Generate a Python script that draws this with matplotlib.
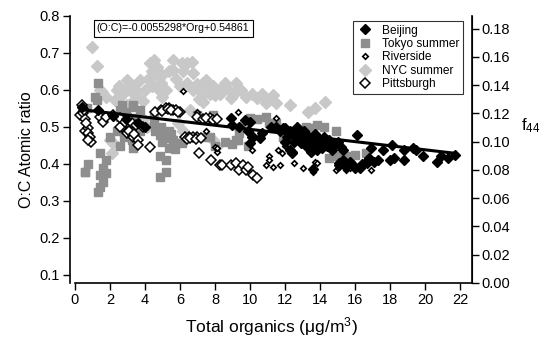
import matplotlib
matplotlib.use("Agg")
import matplotlib.pyplot as plt

plt.rcParams["font.family"] = ["Liberation Sans", "DejaVu Sans"]
plt.rcParams["mathtext.fontset"] = "custom"
plt.rcParams["mathtext.rm"] = "Liberation Sans"

# regression line from the chart label
slope = -0.0055298
intercept = 0.54861
fit_range = [0.4, 21.7]

# Beijing (black filled diamonds)
beijing_x = [0.4, 1.3, 2.2, 2.9, 3.6, 4.0, 8.9, 9.0, 9.4, 9.7, 9.9, 10.0, 10.0,
             10.1, 10.2, 10.6, 10.7, 11.5, 11.9, 12.0, 12.1, 12.3, 12.3, 12.4,
             12.6, 12.7, 12.9, 12.9, 13.2, 13.2, 13.4, 13.5, 13.8, 14.1, 14.2,
             14.4, 14.5, 14.7, 15.0, 15.1, 15.1, 15.3, 15.3, 15.5, 15.9, 16.1,
             16.3, 16.6, 16.7, 16.9, 17.3, 17.6, 18.1, 18.2, 18.8, 18.8, 19.3,
             19.5, 19.9, 20.7, 20.9, 21.3, 21.7,
             11.2, 11.7, 12.0, 12.2, 12.5, 12.8, 13.0, 13.1, 13.3, 13.6, 13.7,
             13.9, 14.0, 14.3, 14.6, 14.8, 15.2, 15.5, 15.7, 16.0, 16.4, 16.8,
             17.1, 18.0, 13.6, 12.4]
beijing_y = [0.555, 0.545, 0.53, 0.52, 0.51, 0.50, 0.524, 0.505, 0.50, 0.518,
             0.49, 0.456, 0.514, 0.473, 0.473, 0.47, 0.483, 0.50, 0.497, 0.497,
             0.473, 0.49, 0.438, 0.432, 0.473, 0.50, 0.473, 0.456, 0.46, 0.447,
             0.447, 0.433, 0.438, 0.443, 0.473, 0.447, 0.465, 0.438, 0.46, 0.397,
             0.403, 0.41, 0.438, 0.392, 0.397, 0.478, 0.39, 0.405, 0.403, 0.443,
             0.41, 0.438, 0.451, 0.416, 0.41, 0.438, 0.443, 0.438, 0.42, 0.405,
             0.42, 0.416, 0.424,
             0.50, 0.49, 0.46, 0.48, 0.46, 0.485, 0.47, 0.49, 0.475, 0.46, 0.48,
             0.455, 0.465, 0.45, 0.455, 0.45, 0.445, 0.40, 0.405, 0.39, 0.40,
             0.415, 0.405, 0.41, 0.385, 0.43]

# Tokyo summer (gray squares)
tokyo_x = [0.57, 0.68, 0.76, 1.14, 1.24, 1.3, 1.3, 1.43, 1.43, 1.6, 1.6, 1.8,
           1.8, 1.43, 0.57, 2.4, 2.6, 2.6, 2.7, 2.8, 2.97, 3.0, 3.2, 3.25, 3.25,
           3.3, 3.3, 3.3, 3.7, 3.7, 4.5, 4.5, 4.86, 4.86, 4.86, 5.2, 5.2, 5.4,
           5.4, 5.6, 5.8, 6.1, 7.0, 7.5, 7.7, 7.9, 8.0, 9.2, 9.3, 9.4, 9.5, 9.9,
           10.0, 10.9, 11.1, 11.5, 11.9, 12.2, 12.3, 12.9, 13.2, 13.6, 13.8,
           14.5, 14.9, 15.0, 15.5, 16.0, 16.6,
           2.0, 2.6, 2.9, 3.5, 4.6, 4.9, 5.0, 5.3, 5.5, 5.7, 5.2, 8.6, 9.0,
           10.4, 12.6, 14.2]
tokyo_y = [0.378, 0.55, 0.40, 0.58, 0.573, 0.62, 0.325, 0.338, 0.43, 0.35,
           0.39, 0.375, 0.41, 0.37, 0.378, 0.49, 0.527, 0.447, 0.56, 0.473,
           0.478, 0.527, 0.51, 0.465, 0.473, 0.56, 0.443, 0.555, 0.49, 0.545,
           0.532, 0.51, 0.478, 0.42, 0.365, 0.483, 0.378, 0.443, 0.49, 0.465,
           0.456, 0.456, 0.532, 0.473, 0.473, 0.532, 0.447, 0.465, 0.465,
           0.483, 0.497, 0.447, 0.525, 0.527, 0.51, 0.51, 0.473, 0.46, 0.465,
           0.49, 0.50, 0.497, 0.505, 0.416, 0.49, 0.42, 0.42, 0.424, 0.43,
           0.473, 0.545, 0.54, 0.525, 0.49, 0.50, 0.46, 0.47, 0.48, 0.44, 0.41,
           0.46, 0.455, 0.52, 0.48, 0.50]

# Riverside (small open diamonds)
riverside_x = [6.2, 7.0, 7.5, 8.0, 8.1, 8.1, 9.3, 10.1, 10.9, 11.1, 11.1, 11.3,
               11.5, 11.6, 11.7, 11.8, 12.0, 12.5, 13.0, 13.6, 13.6, 13.7, 13.8,
               14.9, 15.0, 15.3, 15.5, 15.7, 16.9, 16.9]
riverside_y = [0.597, 0.54, 0.49, 0.446, 0.433, 0.443, 0.54, 0.438, 0.397,
               0.42, 0.41, 0.392, 0.525, 0.438, 0.397, 0.43, 0.447, 0.403, 0.39,
               0.383, 0.378, 0.405, 0.403, 0.384, 0.39, 0.438, 0.384, 0.39,
               0.384, 0.44]

# NYC summer (light gray diamonds)
nyc_x = [0.95, 1.28, 1.43, 1.52, 2.0, 2.1, 2.2, 2.3, 2.4, 2.6, 2.97, 3.0, 3.3,
         3.4, 3.7, 3.9, 4.3, 4.4, 4.4, 4.5, 4.7, 4.9, 5.4, 5.6, 5.6, 5.8, 5.9,
         6.1, 6.2, 6.2, 6.4, 6.6, 6.7, 6.75, 6.75, 7.0, 7.3, 7.3, 7.5, 7.5, 7.9,
         7.9, 8.1, 8.1, 8.3, 8.6, 8.9, 9.1, 9.2, 9.4, 9.8, 9.8, 10.4, 10.7,
         10.9, 11.1, 11.3, 11.5, 12.3, 13.3, 13.7, 14.3, 3.2, 2.8,
         1.8, 2.5, 2.7, 3.0, 3.5, 3.6, 4.0, 4.2, 4.6, 5.0, 5.2, 5.0, 6.0, 6.4,
         7.1, 7.1, 7.7, 8.0, 8.4, 8.8, 9.5, 10.1, 3.9, 4.1, 4.8, 3.3]
nyc_y = [0.715, 0.665, 0.60, 0.595, 0.465, 0.43, 0.457, 0.573, 0.60, 0.58,
         0.627, 0.56, 0.61, 0.59, 0.627, 0.57, 0.673, 0.65, 0.61, 0.68, 0.662,
         0.62, 0.65, 0.68, 0.655, 0.63, 0.51, 0.673, 0.65, 0.49, 0.673, 0.545,
         0.676, 0.645, 0.60, 0.615, 0.62, 0.568, 0.595, 0.627, 0.61, 0.465,
         0.60, 0.447, 0.59, 0.62, 0.578, 0.59, 0.62, 0.497, 0.58, 0.51, 0.578,
         0.59, 0.565, 0.573, 0.587, 0.565, 0.56, 0.54, 0.55, 0.568, 0.50, 0.52,
         0.58, 0.61, 0.59, 0.60, 0.60, 0.58, 0.60, 0.63, 0.64, 0.64, 0.60,
         0.58, 0.61, 0.62, 0.60, 0.575, 0.59, 0.585, 0.605, 0.60, 0.60, 0.59,
         0.52, 0.50, 0.60, 0.57]

# Pittsburgh (open diamonds)
pitt_x = [0.29, 0.4, 0.46, 0.57, 0.57, 0.76, 0.76, 0.86, 0.9, 0.76, 1.43, 1.6,
          1.8, 2.2, 2.57, 2.6, 2.86, 2.97, 3.0, 3.25, 3.3, 3.3, 3.5, 3.6, 3.6,
          3.9, 4.3, 4.9, 5.2, 5.4, 5.6, 5.8, 6.0, 6.3, 6.5, 6.75, 7.0, 7.1, 7.0,
          7.3, 7.7, 7.8, 8.3, 8.4, 8.9, 9.2, 9.4, 9.6, 9.8, 9.9, 10.2, 10.4,
          4.6, 5.0, 5.3, 5.5, 5.9, 6.4, 6.6, 6.9, 7.2, 7.5, 7.9, 8.1, 0.5, 0.65,
          3.1, 3.4]
pitt_y = [0.532, 0.56, 0.537, 0.52, 0.49, 0.497, 0.483, 0.473, 0.46, 0.465,
          0.527, 0.514, 0.527, 0.532, 0.50, 0.524, 0.514, 0.487, 0.483, 0.51,
          0.478, 0.473, 0.505, 0.465, 0.451, 0.50, 0.446, 0.545, 0.55, 0.55,
          0.545, 0.545, 0.54, 0.473, 0.473, 0.473, 0.473, 0.43, 0.527, 0.52,
          0.524, 0.41, 0.397, 0.397, 0.397, 0.403, 0.384, 0.397, 0.384, 0.392,
          0.37, 0.362,
          0.54, 0.542, 0.548, 0.545, 0.54, 0.468, 0.47, 0.468, 0.47, 0.525,
          0.518, 0.522, 0.545, 0.51, 0.49, 0.48]

fig = plt.figure(figsize=(5.42, 3.4), dpi=100)
ax = fig.add_axes([0.129, 0.168, 0.742, 0.785])
ax2 = ax.twinx()

ax.plot(nyc_x, nyc_y, "D", ms=6, color="#c8c8c8", mec="#c8c8c8",
        label="NYC summer", zorder=2)
ax.plot(tokyo_x, tokyo_y, "s", ms=5.3, color="#8e8e8e", mec="#8e8e8e",
        label="Tokyo summer", zorder=3)
ax.plot(riverside_x, riverside_y, "D", ms=2.8, mfc="white", mec="black",
        mew=1.2, label="Riverside", zorder=4)
ax.plot(pitt_x, pitt_y, "D", ms=4.8, mfc="white", mec="black", mew=1.1,
        label="Pittsburgh", zorder=5)
ax.plot(beijing_x, beijing_y, "D", ms=5.5, color="black", label="Beijing",
        zorder=6)
ax.plot(fit_range, [slope * v + intercept for v in fit_range], color="black",
        lw=2.2, zorder=7)

ax.set_xlim(-0.29, 22.69)
ax.set_ylim(0.078, 0.8)
ax2.set_ylim(0, 0.189)

ax.set_xticks(range(0, 23, 2))
ax.set_yticks([0.1, 0.2, 0.3, 0.4, 0.5, 0.6, 0.7, 0.8])
ax2.set_yticks([i * 0.02 for i in range(10)])
ax2.set_yticklabels([f"{i * 0.02:.2f}" for i in range(10)])

for a in (ax, ax2):
    a.spines["top"].set_visible(False)
    a.tick_params(direction="out", length=5, width=1, labelsize=10.5,
                  colors="black", pad=2)
ax.spines["bottom"].set_bounds(0, 22.69)
for s in ("left", "bottom"):
    ax.spines[s].set_linewidth(1.2)
ax2.spines["right"].set_linewidth(1.2)
ax2.spines["left"].set_visible(False)
ax2.spines["bottom"].set_visible(False)

ax.set_ylabel("O:C Atomic ratio", fontsize=11.5, labelpad=4)
ax.set_xlabel("Total organics ($\\mathregular{\\mu}$g/m$\\mathregular{^3}$)",
              fontsize=12.5, labelpad=6)
ax2.set_ylabel("f$\\mathregular{_{44}}$", fontsize=12, rotation=0,
               va="center", ha="center")
ax2.yaxis.set_label_coords(1.145, 0.59)

ax.text(0.067, 0.972, "(O:C)=-0.0055298*Org+0.54861", transform=ax.transAxes,
        fontsize=7.7, va="top", ha="left",
        bbox=dict(boxstyle="square,pad=0.3", fc="white", ec="black", lw=0.8))

handles, labels = ax.get_legend_handles_labels()
order = ["Beijing", "Tokyo summer", "Riverside", "NYC summer", "Pittsburgh"]
hmap = dict(zip(labels, handles))
leg = ax.legend([hmap[k] for k in order], order, loc="upper right",
                bbox_to_anchor=(0.983, 0.99), fontsize=8.6, frameon=True,
                fancybox=False, edgecolor="black", handlelength=1.4,
                handletextpad=0.7, borderpad=0.3, labelspacing=0.12,
                borderaxespad=0.2)
leg.get_frame().set_linewidth(0.8)

fig.savefig("out.png", dpi=100)
